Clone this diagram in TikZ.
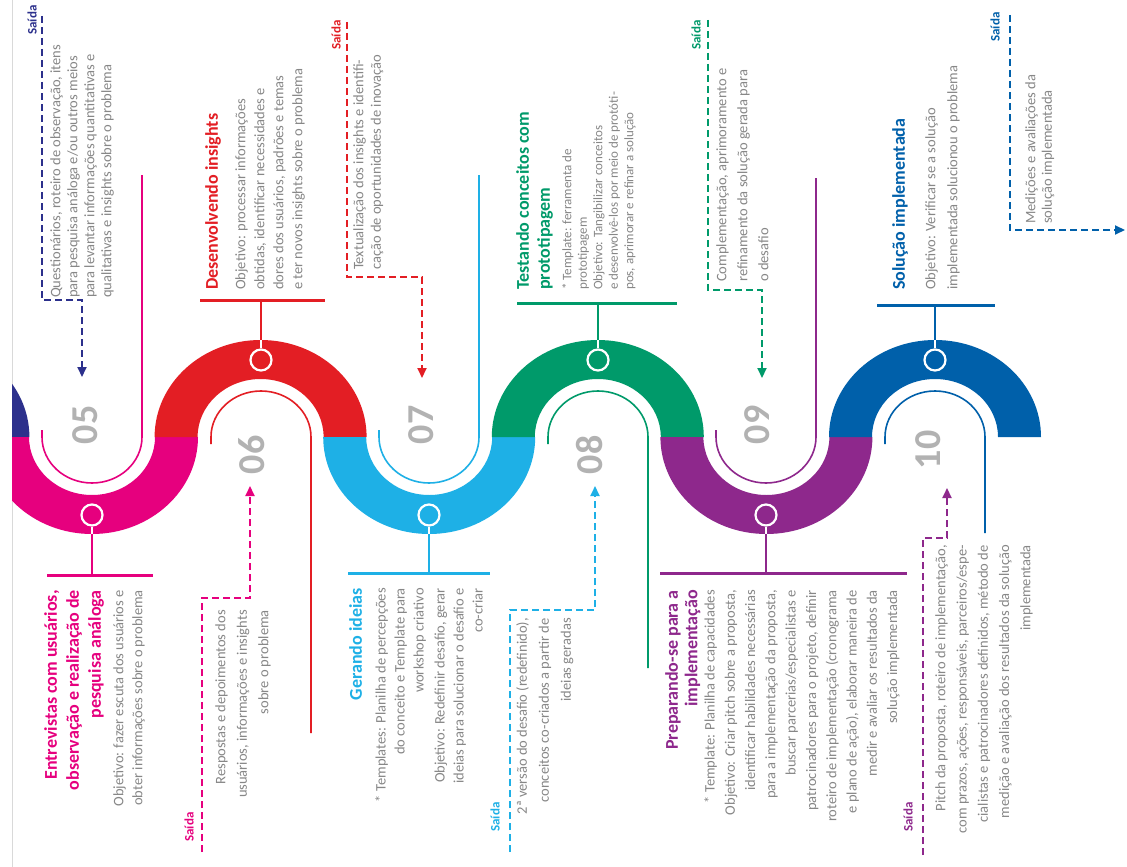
\documentclass[tikz,border=0pt]{standalone}
\usepackage{fontspec}
\setmainfont{Carlito}
\usetikzlibrary{arrows.meta}

\definecolor{stepnavy}{RGB}{44,48,140}
\definecolor{stepmagenta}{RGB}{230,0,126}
\definecolor{stepred}{RGB}{227,30,36}
\definecolor{stepcyan}{RGB}{30,176,230}
\definecolor{stepgreen}{RGB}{0,154,106}
\definecolor{steppurple}{RGB}{142,40,140}
\definecolor{stepblue}{RGB}{0,96,170}
\definecolor{textgray}{RGB}{135,135,135}
\definecolor{numgray}{RGB}{178,178,178}

\tikzset{
  ring/.style={circle, draw=white, line width=2.2pt, minimum size=21pt, inner sep=0pt},
  stem/.style={line width=2.2pt},
  tbar/.style={line width=3pt},
  innerline/.style={line width=1.6pt},
  saidaline/.style={line width=2pt, dash pattern=on 7pt off 4pt},
  saidaarrow/.style={saidaline, -{Triangle[length=10pt,width=9pt]}},
  steptitle/.style={rotate=90, inner sep=0pt, font=\fontsize{18}{22}\selectfont\bfseries},
  stepbody/.style={rotate=90, inner sep=0pt, text=textgray, font=\fontsize{14.5}{19}\selectfont},
  saidalabel/.style={rotate=90, inner sep=0pt, font=\fontsize{13}{14}\selectfont\bfseries},
  stepnum/.style={rotate=90, inner sep=0pt, text=numgray, font=\fontsize{38}{40}\selectfont\bfseries}
}

\begin{document}
\begin{tikzpicture}[x=1pt, y=-1pt]
  \useasboundingbox (0,0) rectangle (1127,867);
  \fill[white] (0,0) rectangle (1127,867);
  \draw[black!15, line width=0.8pt] (12,0) -- (12,867);

  % The wave band, one half ring per step
  \begin{scope}
    \clip (12,0) rectangle (1127,867);
    \foreach \i/\col/\d in {-1/stepnavy/-1, 0/stepmagenta/1, 1/stepred/-1, 2/stepcyan/1,
                            3/stepgreen/-1, 4/steppurple/1, 5/stepblue/-1} {
      \pgfmathsetmacro{\cx}{92+168.6*\i}
      \pgfmathsetmacro{\ea}{180-180*\d}
      \fill[\col] (\cx-106,437) arc[start angle=180, end angle=\ea, x radius=106, y radius=97]
        -- (\cx+63,437) arc[start angle=\ea, end angle=180, x radius=63, y radius=58] -- cycle;
    }
  \end{scope}

  % Thin lines inside the rings
  \draw[innerline, stepmagenta] (42,430) -- (42,437) arc[start angle=180, end angle=0, x radius=50, y radius=46] -- (142,175);
  \draw[innerline, stepred] (211,444) -- (211,437) arc[start angle=180, end angle=360, x radius=50, y radius=46] -- (311,733);
  \draw[innerline, stepcyan] (379,430) -- (379,437) arc[start angle=180, end angle=0, x radius=50, y radius=46] -- (479,175);
  \draw[innerline, stepgreen] (548,444) -- (548,437) arc[start angle=180, end angle=360, x radius=50, y radius=46] -- (648,668);
  \draw[innerline, steppurple] (716,430) -- (716,437) arc[start angle=180, end angle=0, x radius=50, y radius=46] -- (816,178);
  \draw[innerline, stepblue] (885,444) -- (885,437) arc[start angle=180, end angle=360, x radius=50, y radius=46] -- (985,533);

  % Step numbers
  \node[stepnum] (n05) at (85,425) {05};
  \node[stepnum] (n06) at (252,455) {06};
  \node[stepnum] (n07) at (421,425) {07};
  \node[stepnum] (n08) at (590,455) {08};
  \node[stepnum] (n09) at (757,425) {09};
  \node[stepnum] (n10) at (928,450) {10};

  % Band edges and bar ends
  \coordinate (e05) at (92,534);   \coordinate (t05) at (92,575);
  \coordinate (e06) at (261,340);  \coordinate (t06) at (261,300);
  \coordinate (e07) at (429,534);  \coordinate (t07) at (429,573);
  \coordinate (e08) at (598,340);  \coordinate (t08) at (598,303);
  \coordinate (e09) at (766,534);  \coordinate (t09) at (766,573);
  \coordinate (e10) at (935,340);  \coordinate (t10) at (935,305);

  % Rings with stems and T bars
  \node[ring, fill=stepmagenta] (r05) at (92,515) {};
  \node[ring, fill=stepred] (r06) at (261,360) {};
  \node[ring, fill=stepcyan] (r07) at (429,515) {};
  \node[ring, fill=stepgreen] (r08) at (598,360) {};
  \node[ring, fill=steppurple] (r09) at (766,515) {};
  \node[ring, fill=stepblue] (r10) at (935,360) {};

  \draw[stem, white] (r05) -- (e05);  \draw[stem, stepmagenta] (e05) -- (t05);
  \draw[stem, white] (r06) -- (e06);  \draw[stem, stepred] (e06) -- (t06);
  \draw[stem, white] (r07) -- (e07);  \draw[stem, stepcyan] (e07) -- (t07);
  \draw[stem, white] (r08) -- (e08);  \draw[stem, stepgreen] (e08) -- (t08);
  \draw[stem, white] (r09) -- (e09);  \draw[stem, steppurple] (e09) -- (t09);
  \draw[stem, white] (r10) -- (e10);  \draw[stem, stepblue] (e10) -- (t10);

  \draw[tbar, stepmagenta] (47,575) -- (153,575);
  \draw[tbar, stepred] (200,300) -- (325,300);
  \draw[tbar, stepcyan] (348,573) -- (490,573);
  \draw[tbar, stepgreen] (517,303) -- (677,303);
  \draw[tbar, steppurple] (660,573) -- (907,573);
  \draw[tbar, stepblue] (877,305) -- (995,305);

  % Step 05
  \node[steptitle, stepmagenta, anchor=north east, align=right] (title05) at (44,590)
    {Entrevistas com usuários,\\observação e realização de\\pesquisa análoga};
  \node[stepbody, anchor=north east, align=right] (body05) at (113,590)
    {Objetivo: fazer escuta dos usuários e\\obter informações sobre o problema};

  % Step 06
  \node[steptitle, stepred, anchor=north west, align=left] (title06) at (205,290)
    {Desenvolvendo insights};
  \node[stepbody, anchor=north west, align=left] (body06) at (235,290)
    {Objetivo: processar informações\\obtidas, identificar necessidades e\\dores dos usuários, padrões e temas\\e ter novos insights sobre o problema};

  % Step 07
  \node[steptitle, stepcyan, anchor=north east, align=right] (title07) at (349,588)
    {Gerando ideias};
  \node[stepbody, anchor=north east, align=right] (body07) at (375,588)
    {* Templates: Planilha de percepções\\do conceito e Template para\\workshop criativo\\[2pt]Objetivo: Redefinir desafio, gerar\\ideias para solucionar o desafio e\\co-criar};

  % Step 08
  \node[steptitle, stepgreen, anchor=north west, align=left, font=\fontsize{18}{21}\selectfont\bfseries] (title08) at (516,290)
    {Testando conceitos com\\prototipagem};
  \node[stepbody, anchor=north west, align=left, font=\fontsize{13}{15.5}\selectfont] (body08) at (562,290)
    {* Template: ferramenta de\\prototipagem\\Objetivo: Tangibilizar conceitos\\e desenvolvê-los por meio de protóti-\\pos, aprimorar e refinar a solução};

  % Step 09
  \node[steptitle, steppurple, anchor=north east, align=right, font=\fontsize{18}{19.5}\selectfont\bfseries] (title09) at (665,590)
    {Preparando-se para a\\implementação};
  \node[stepbody, anchor=north east, align=right, font=\fontsize{14.5}{20.3}\selectfont] (body09) at (704,590)
    {* Template: Planilha de capacidades\\Objetivo: Criar pitch sobre a proposta,\\identificar habilidades necessárias\\para a implementação da proposta,\\buscar parcerias/especialistas e\\patrocinadores para o projeto, definir\\roteiro de implementação (cronograma\\e plano de ação), elaborar maneira de\\medir e avaliar os resultados da\\solução implementada};

  % Step 10
  \node[steptitle, stepblue, anchor=north west, align=left] (title10) at (892,290)
    {Solução implementada};
  \node[stepbody, anchor=north west, align=left, font=\fontsize{14.5}{22}\selectfont] (body10) at (925,290)
    {Objetivo: Verificar se a solução\\implementada solucionou o problema};

  % Outputs (Saida) with dashed arrows
  \coordinate (s04a) at (42,16);    \coordinate (s04b) at (42,300);   \coordinate (s04c) at (82,300);   \coordinate (s04d) at (82,377);
  \coordinate (s05a) at (202,852);  \coordinate (s05b) at (202,598);  \coordinate (s05c) at (250,598);  \coordinate (s05d) at (250,486);
  \coordinate (s06a) at (347,22);   \coordinate (s06b) at (347,277);  \coordinate (s06c) at (422,277);  \coordinate (s06d) at (422,378);
  \coordinate (s07a) at (510,852);  \coordinate (s07b) at (510,610);  \coordinate (s07c) at (595,610);  \coordinate (s07d) at (595,486);
  \coordinate (s08a) at (708,20);   \coordinate (s08b) at (708,290);  \coordinate (s08c) at (762,290);  \coordinate (s08d) at (762,378);
  \coordinate (s09a) at (923,855);  \coordinate (s09b) at (923,538);  \coordinate (s09c) at (947,538);  \coordinate (s09d) at (947,488);
  \coordinate (s10a) at (1010,15);  \coordinate (s10b) at (1010,230); \coordinate (s10d) at (1125,230);

  \draw[saidaarrow, stepnavy] (s04a) -- (s04b) -- (s04c) -- (s04d);
  \draw[saidaarrow, stepmagenta] (s05a) -- (s05b) -- (s05c) -- (s05d);
  \draw[saidaarrow, stepred] (s06a) -- (s06b) -- (s06c) -- (s06d);
  \draw[saidaarrow, stepcyan] (s07a) -- (s07b) -- (s07c) -- (s07d);
  \draw[saidaarrow, stepgreen] (s08a) -- (s08b) -- (s08c) -- (s08d);
  \draw[saidaarrow, steppurple] (s09a) -- (s09b) -- (s09c) -- (s09d);
  \draw[saidaarrow, stepblue] (s10a) -- (s10b) -- (s10d);

  \node[saidalabel, stepnavy] (lab04) at (32,20) {Saída};
  \node[saidalabel, stepmagenta] (lab05) at (189,827) {Saída};
  \node[saidalabel, stepred] (lab06) at (336,35) {Saída};
  \node[saidalabel, stepcyan] (lab07) at (495,817) {Saída};
  \node[saidalabel, stepgreen] (lab08) at (696,35) {Saída};
  \node[saidalabel, steppurple] (lab09) at (908,817) {Saída};
  \node[saidalabel, stepblue] (lab10) at (995,27) {Saída};

  \node[stepbody, anchor=north west, align=left, font=\fontsize{14.5}{17}\selectfont] (out04) at (50,298)
    {Questionários, roteiro de observação, itens\\para pesquisa análoga e/ou outros meios\\para levantar informações quantitativas e\\qualitativas e insights sobre o problema};
  \node[stepbody, anchor=north east, align=right, font=\fontsize{14.5}{21.5}\selectfont] (out05) at (215,610)
    {Respostas e depoimentos dos\\usuários, informações e insights\\sobre o problema};
  \node[stepbody, anchor=north west, align=left, font=\fontsize{14.5}{17.5}\selectfont] (out06) at (353,270)
    {Textualização dos insights e identifi-\\cação de oportunidades de inovação};
  \node[stepbody, anchor=north east, align=right, font=\fontsize{14.5}{22}\selectfont] (out07) at (516,618)
    {2ª versão do desafio (redefinido),\\conceitos co-criados a partir de\\ideias geradas};
  \node[stepbody, anchor=north west, align=left, font=\fontsize{14.5}{21}\selectfont] (out08) at (716,282)
    {Complementação, aprimoramento e\\refinamento da solução gerada para\\o desafio};
  \node[stepbody, anchor=north east, align=right, font=\fontsize{14.5}{21.3}\selectfont] (out09) at (935,545)
    {Pitch da proposta, roteiro de implementação,\\com prazos, ações, responsáveis, parceiros/espe-\\cialistas e patrocinadores definidos, método de\\medição e avaliação dos resultados da solução\\implementada};
  \node[stepbody, anchor=north west, align=left, font=\fontsize{14.5}{16.5}\selectfont] (out10) at (1025,224)
    {Medições e avaliações da\\solução implementada};
\end{tikzpicture}
\end{document}
